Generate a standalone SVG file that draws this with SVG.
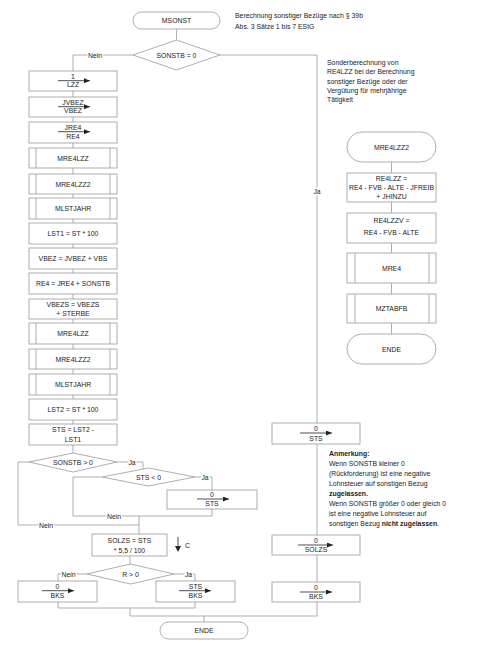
<svg xmlns="http://www.w3.org/2000/svg" width="500" height="647" viewBox="0 0 500 647">
<style>
text{font-family:"Liberation Sans Narrow","Liberation Sans",Arial,sans-serif;font-size:8px;fill:#222;text-anchor:middle;transform-box:fill-box;transform-origin:center;transform:scaleX(0.86)}
.l{text-anchor:start;transform-origin:left center}
.b{font-weight:bold}
.n{fill:#fff;stroke:#999;stroke-width:0.8}
.c{fill:none;stroke:#999;stroke-width:0.8}
.a{fill:none;stroke:#222;stroke-width:0.8;marker-end:url(#ah)}
.lab{stroke:#fff;stroke-width:3;paint-order:stroke}
</style>
<defs>
<marker id="ah" markerWidth="6" markerHeight="5" refX="6" refY="2.5" orient="auto" markerUnits="userSpaceOnUse"><path d="M0,0L6,2.5L0,5z" fill="#222"/></marker>
</defs>
<rect width="500" height="647" fill="#fff"/>
<g id="connectors">
<path class="c" d="M176.5,29V40M133,55H73V71M220,55H317V423M73,91V97M73,117V122M73,143V148M73,168V174M73,194V198M73,219V223M73,244V248M73,269V273M73,294V299M73,319V323M73,344V349M73,369V374M73,395V399M73,420V424M73,445V453"/>
<path class="c" d="M391.5,162V173M391.5,202V213M391.5,243V253M391.5,283V294M391.5,323V334"/>
<path class="c" d="M117,462H143V469M29,462H18V525H139M102,477H73V516H212V509M195,477H212V490M139,516V534M130,556V564M87,574H58V581M174,574H195V581M58,602V608H195V602M130,608V616H317V602M204,616V622M317,444V535M317,555V582"/>
<path d="M178,537V547" fill="none" stroke="#222" stroke-width="0.8"/>
<path d="M175,546L178,552L181,546z" fill="#222"/>
<text x="95" y="58" class="lab">Nein</text>
<text x="317" y="194" class="lab">Ja</text>
<text x="132" y="465" class="lab">Ja</text>
<text x="205" y="480" class="lab">Ja</text>
<text x="114" y="519" class="lab">Nein</text>
<text x="46" y="528" class="lab">Nein</text>
<text x="68.5" y="577" class="lab">Nein</text>
<text x="188.5" y="577" class="lab">Ja</text>
<text x="185" y="548" class="l">C</text>
</g>
<g id="MSONST"><rect class="n" x="133" y="12" width="87" height="17" rx="8.5"/><text x="176.5" y="23.5">MSONST</text></g>
<g id="header"><text class="l" x="235" y="18">Berechnung sonstiger Bezüge nach § 39b</text><text class="l" x="235" y="29.5">Abs. 3 Sätze 1 bis 7 EStG</text></g>
<g id="d_sonstb0"><path class="n" d="M176.5,40L220,55L176.5,70L133,55z"/><text x="176.5" y="58">SONSTB = 0</text></g>
<g id="b1"><rect class="n" x="29" y="71" width="88" height="20"/><text x="73" y="79">1</text><path class="a" d="M58,80.7H90"/><text x="73" y="87.5">LZZ</text></g>
<g id="b2"><rect class="n" x="29" y="97" width="88" height="20"/><text x="73" y="105">JVBEZ</text><path class="a" d="M58,106.7H90"/><text x="73" y="113.5">VBEZ</text></g>
<g id="b3"><rect class="n" x="29" y="122" width="88" height="21"/><text x="73" y="130">JRE4</text><path class="a" d="M58,131.7H90"/><text x="73" y="139">RE4</text></g>
<g id="b4"><rect class="n" x="29" y="148" width="88" height="20"/><path class="c" d="M36,148V168M110,148V168"/><text x="73" y="161">MRE4LZZ</text></g>
<g id="b5"><rect class="n" x="29" y="174" width="88" height="20"/><path class="c" d="M36,174V194M110,174V194"/><text x="73" y="187">MRE4LZZ2</text></g>
<g id="b6"><rect class="n" x="29" y="198" width="88" height="21"/><path class="c" d="M36,198V219M110,198V219"/><text x="73" y="211.5">MLSTJAHR</text></g>
<g id="b7"><rect class="n" x="29" y="223" width="88" height="21"/><text x="73" y="236.5">LST1 = ST * 100</text></g>
<g id="b8"><rect class="n" x="29" y="248" width="88" height="21"/><text x="73" y="261.5">VBEZ = JVBEZ + VBS</text></g>
<g id="b9"><rect class="n" x="29" y="273" width="88" height="21"/><text x="73" y="286.5">RE4 = JRE4 + SONSTB</text></g>
<g id="b10"><rect class="n" x="29" y="299" width="88" height="20"/><text x="73" y="307">VBEZS = VBEZS</text><text x="73" y="316.5">+ STERBE</text></g>
<g id="b11"><rect class="n" x="29" y="323" width="88" height="21"/><path class="c" d="M36,323V344M110,323V344"/><text x="73" y="336.5">MRE4LZZ</text></g>
<g id="b12"><rect class="n" x="29" y="349" width="88" height="20"/><path class="c" d="M36,349V369M110,349V369"/><text x="73" y="362">MRE4LZZ2</text></g>
<g id="b13"><rect class="n" x="29" y="374" width="88" height="21"/><path class="c" d="M36,374V395M110,374V395"/><text x="73" y="387.5">MLSTJAHR</text></g>
<g id="b14"><rect class="n" x="29" y="399" width="88" height="21"/><text x="73" y="412.5">LST2 = ST * 100</text></g>
<g id="b15"><rect class="n" x="29" y="424" width="88" height="21"/><text x="73" y="432.5">STS = LST2 -</text><text x="73" y="442">LST1</text></g>
<g id="d_sonstbgt0"><path class="n" d="M73,453L117,462L73,472L29,462z"/><text x="73" y="465">SONSTB &gt; 0</text></g>
<g id="d_stslt0"><path class="n" d="M148.5,468L195,477L148.5,486L102,477z"/><text x="148.5" y="480">STS &lt; 0</text></g>
<g id="b_sts0"><rect class="n" x="167" y="490" width="90" height="19"/><text x="212" y="497.5">0</text><path class="a" d="M197,499H229"/><text x="212" y="506.5">STS</text></g>
<g id="b_solzs"><rect class="n" x="92" y="534" width="75" height="22"/><text x="129.5" y="543">SOLZS = STS</text><text x="129.5" y="553">* 5,5 / 100</text></g>
<g id="d_r0"><path class="n" d="M130.5,564L174,574L130.5,584L87,574z"/><text x="130.5" y="577">R &gt; 0</text></g>
<g id="b_bks0"><rect class="n" x="18" y="581" width="79" height="21"/><text x="57.5" y="589">0</text><path class="a" d="M42,590.7H74"/><text x="57.5" y="598.5">BKS</text></g>
<g id="b_stsbks"><rect class="n" x="156" y="581" width="79" height="21"/><text x="195.5" y="589">STS</text><path class="a" d="M179,590.7H211"/><text x="195.5" y="598.5">BKS</text></g>
<g id="ENDE"><rect class="n" x="160" y="622" width="88" height="17" rx="8.5"/><text x="204" y="633.5">ENDE</text></g>
<g id="note_sonder">
<text class="l" x="327" y="65">Sonderberechnung von</text>
<text class="l" x="327" y="74.3">RE4LZZ bei der Berechnung</text>
<text class="l" x="327" y="83.6">sonstiger Bezüge oder der</text>
<text class="l" x="327" y="92.9">Vergütung für mehrjährige</text>
<text class="l" x="327" y="102.2">Tätigkeit</text>
</g>
<g id="MRE4LZZ2_start"><rect class="n" x="347" y="132" width="89" height="30" rx="15"/><text x="391.5" y="150">MRE4LZZ2</text></g>
<g id="r_re4lzz"><rect class="n" x="347" y="173" width="89" height="29"/><text x="391.5" y="181">RE4LZZ =</text><text x="391.5" y="190">RE4 - FVB - ALTE - JFREIB</text><text x="391.5" y="199.5">+ JHINZU</text></g>
<g id="r_re4lzzv"><rect class="n" x="347" y="213" width="89" height="30"/><text x="391.5" y="223">RE4LZZV =</text><text x="391.5" y="235.5">RE4 - FVB - ALTE</text></g>
<g id="r_mre4"><rect class="n" x="347" y="253" width="89" height="30"/><path class="c" d="M355,253V283M429,253V283"/><text x="391.5" y="271">MRE4</text></g>
<g id="r_mztabfb"><rect class="n" x="347" y="294" width="89" height="29"/><path class="c" d="M355,294V323M429,294V323"/><text x="391.5" y="311.5">MZTABFB</text></g>
<g id="r_ende"><rect class="n" x="347" y="334" width="89" height="30" rx="15"/><text x="391.5" y="352">ENDE</text></g>
<g id="rb_sts0"><rect class="n" x="272" y="423" width="88" height="21"/><text x="316" y="431">0</text><path class="a" d="M300,433H332"/><text x="316" y="441">STS</text></g>
<g id="note_anm">
<text class="l b" x="329" y="456">Anmerkung:</text>
<text class="l" x="329" y="466">Wenn SONSTB kleiner 0</text>
<text class="l" x="329" y="476">(Rückforderung) ist eine negative</text>
<text class="l" x="329" y="486.5">Lohnsteuer auf sonstigen Bezug</text>
<text class="l b" x="329" y="496">zugelassen.</text>
<text class="l" x="329" y="506">Wenn SONSTB größer 0 oder gleich 0</text>
<text class="l" x="329" y="516">ist eine negative Lohnsteuer auf</text>
<text class="l" x="329" y="526">sonstigen Bezug <tspan class="b">nicht zugelassen</tspan>.</text>
</g>
<g id="rb_solzs0"><rect class="n" x="272" y="535" width="88" height="20"/><text x="316" y="543">0</text><path class="a" d="M298,545H333"/><text x="316" y="552.5">SOLZS</text></g>
<g id="rb_bks0"><rect class="n" x="272" y="582" width="88" height="20"/><text x="316" y="590">0</text><path class="a" d="M300,592H332"/><text x="316" y="599.5">BKS</text></g>
</svg>
